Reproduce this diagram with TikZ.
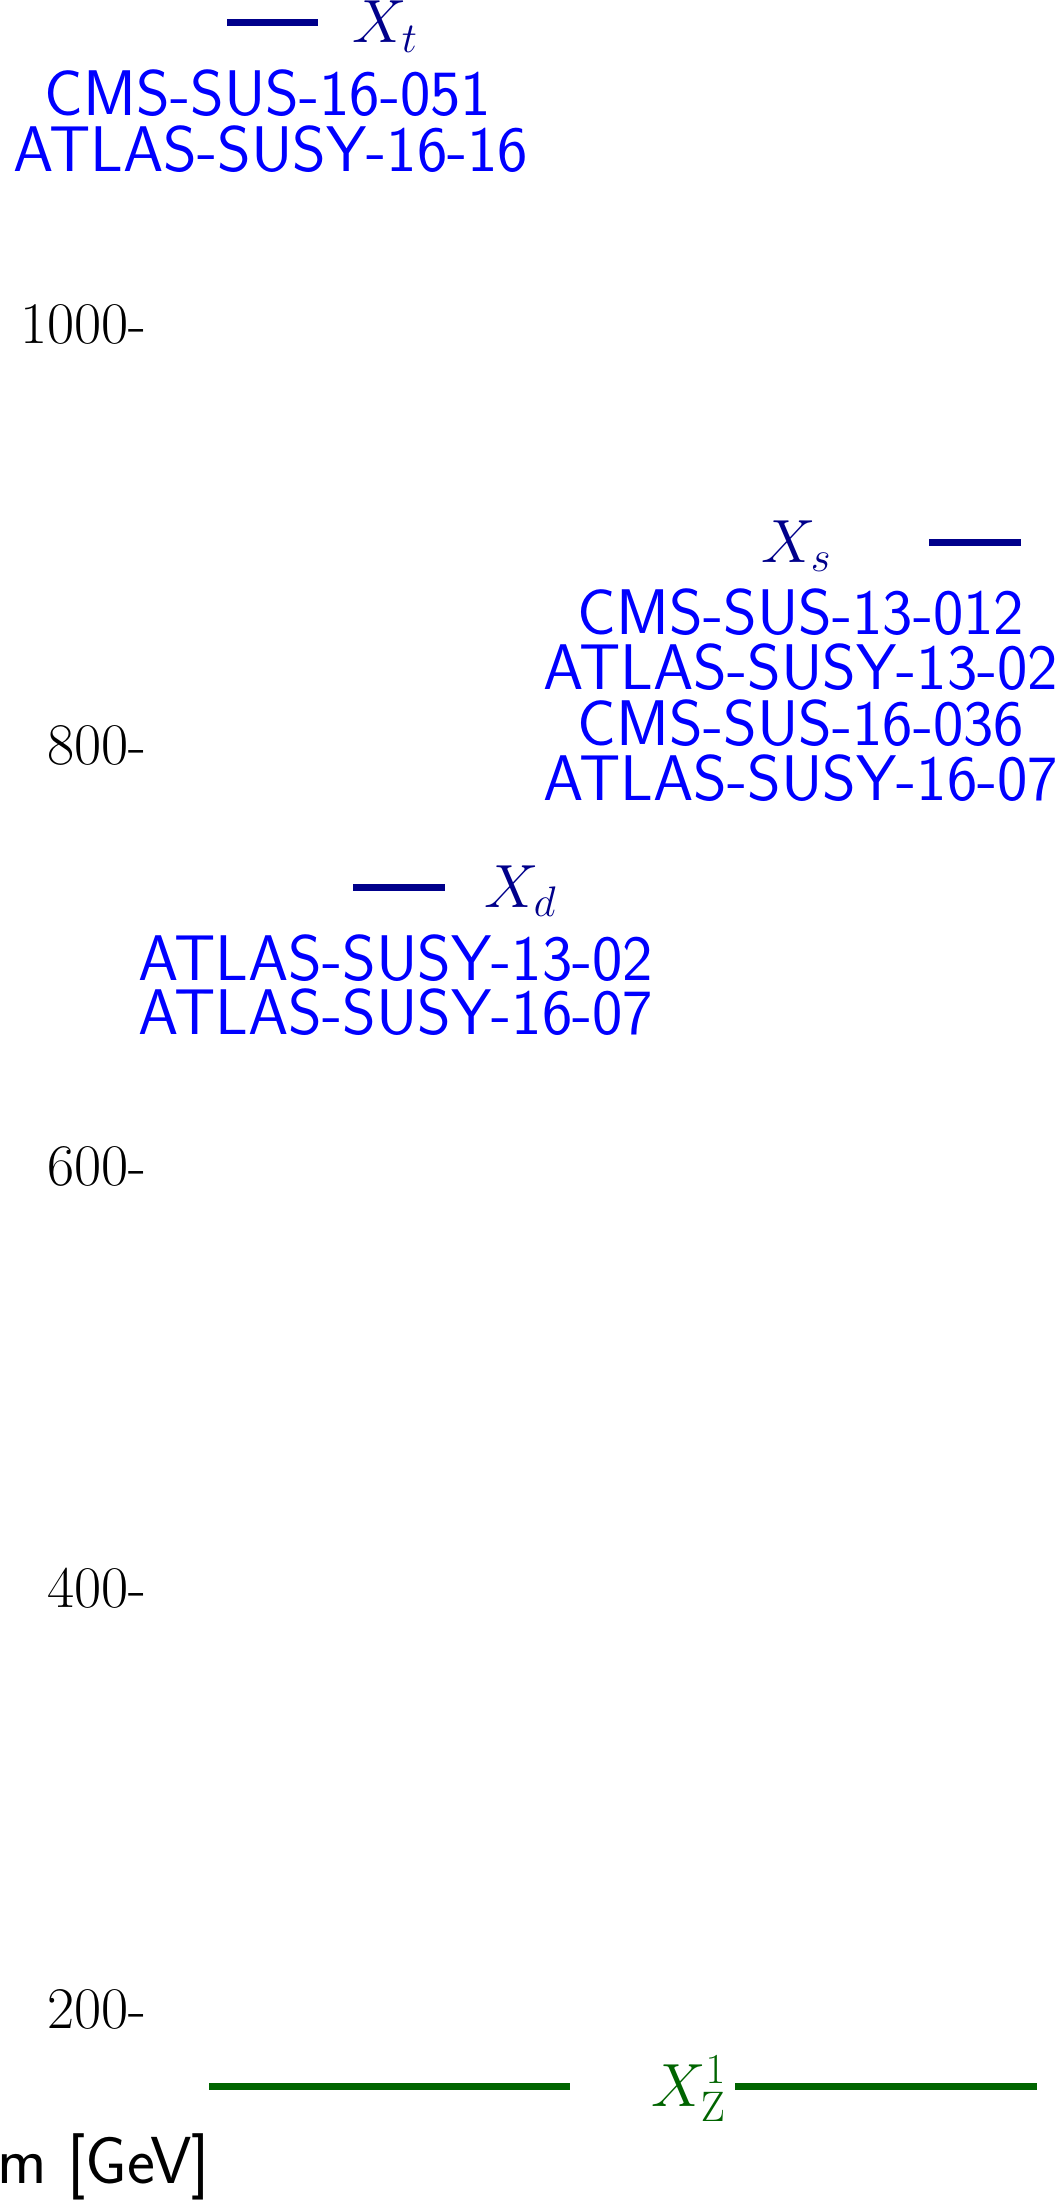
\documentclass[tikz,border=0pt]{standalone}
\usepackage{fix-cm}
\definecolor{levelblue}{RGB}{0,0,139}
\definecolor{refblue}{RGB}{0,0,255}
\definecolor{levelgreen}{RGB}{0,100,0}
\tikzset{
  lvl/.style={line width=7pt, line cap=butt},
  reftext/.style={inner sep=0pt, anchor=base, text=refblue, font=\sffamily\fontsize{64.5}{64.5}\selectfont},
  ticktext/.style={inner sep=0pt, anchor=base east, font=\rmfamily\fontsize{59}{59}\selectfont},
  masslabel/.style={inner sep=0pt, anchor=base west, font=\fontsize{61}{61}\selectfont},
}
\begin{document}
\begin{tikzpicture}[x=1pt,y=-1pt]
\useasboundingbox (0,0) rectangle (1057,2202);
% levels
\draw[lvl, levelblue] (227,23) coordinate (t1) -- (318,23) coordinate (t2);
\draw[lvl, levelblue] (929,542) coordinate (s1) -- (1021,542) coordinate (s2);
\draw[lvl, levelblue] (353,887) coordinate (d1) -- (445,887) coordinate (d2);
\draw[lvl, levelgreen] (209,2086) coordinate (z1) -- (570,2086) coordinate (z2);
\draw[lvl, levelgreen] (735,2086) coordinate (z3) -- (1037,2086) coordinate (z4);
% mass labels
\node[masslabel, text=levelblue] (Xt) at (352,43) {$X_t$};
\node[masslabel, text=levelblue] (Xs) at (761,562) {$X_s$};
\node[masslabel, text=levelblue] (Xd) at (484,907) {$X_d$};
\node[masslabel, text=levelgreen] (XZ) at (651,2106) {$X_{\mathrm{Z}}^{1}$};
% references
\node[reftext] (r1) at (268,116) {CMS-SUS-16-051};
\node[reftext] (r2) at (271,172) {ATLAS-SUSY-16-16};
\node[reftext] (r3) at (801,634) {CMS-SUS-13-012};
\node[reftext] (r4) at (801,689) {ATLAS-SUSY-13-02};
\node[reftext] (r5) at (801,745) {CMS-SUS-16-036};
\node[reftext] (r6) at (801,800) {ATLAS-SUSY-16-07};
\node[reftext] (r7) at (396,980) {ATLAS-SUSY-13-02};
\node[reftext] (r8) at (396,1034) {ATLAS-SUSY-16-07};
% axis ticks
\node[ticktext] (k1000) at (147,343) {1000-};
\node[ticktext] (k800) at (147,764) {800-};
\node[ticktext] (k600) at (147,1185) {600-};
\node[ticktext] (k400) at (147,1607) {400-};
\node[ticktext] (k200) at (147,2028) {200-};
\node[inner sep=0pt, anchor=base west, font=\sffamily\fontsize{66.5}{66.5}\selectfont] (unit) at (-3,2183) {m [GeV]};
\end{tikzpicture}
\end{document}
